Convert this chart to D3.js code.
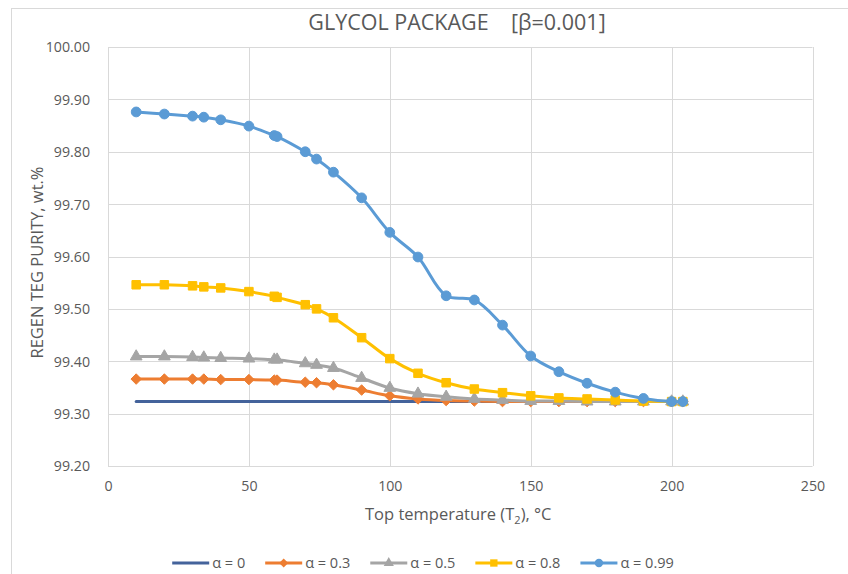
<!DOCTYPE html>
<html>
<head>
<meta charset="utf-8">
<script src="https://cdn.jsdelivr.net/npm/d3@7"></script>
<style>
  body { margin: 0; background: #fff; }
  svg { display: block; font-family: "Open Sans", "Noto Sans", sans-serif; }
</style>
</head>
<body>
<script>
// temperatures (°C) shared by every series
var temps = [10, 20, 30, 34, 40, 50, 59, 60, 70, 74, 80, 90, 100, 110, 120, 130, 140, 150, 160, 170, 180, 190, 200, 204];

// purity values, wt.%
var alpha0   = [99.323, 99.323, 99.323, 99.323, 99.323, 99.323, 99.323, 99.323, 99.323, 99.323, 99.323, 99.323, 99.323, 99.323, 99.323, 99.323, 99.323, 99.323, 99.323, 99.323, 99.323, 99.323, 99.323, 99.323];
var alpha03  = [99.366, 99.366, 99.366, 99.366, 99.365, 99.365, 99.364, 99.364, 99.360, 99.359, 99.355, 99.345, 99.334, 99.328, 99.325, 99.324, 99.323, 99.323, 99.323, 99.323, 99.323, 99.323, 99.323, 99.323];
var alpha05  = [99.409, 99.409, 99.408, 99.407, 99.406, 99.405, 99.403, 99.403, 99.396, 99.393, 99.387, 99.368, 99.349, 99.338, 99.332, 99.328, 99.326, 99.324, 99.324, 99.323, 99.323, 99.323, 99.323, 99.323];
var alpha08  = [99.546, 99.546, 99.544, 99.542, 99.540, 99.533, 99.524, 99.522, 99.508, 99.500, 99.483, 99.445, 99.405, 99.377, 99.359, 99.347, 99.340, 99.334, 99.330, 99.328, 99.326, 99.324, 99.323, 99.323];
var alpha099 = [99.876, 99.872, 99.868, 99.866, 99.861, 99.849, 99.831, 99.829, 99.800, 99.786, 99.761, 99.712, 99.646, 99.599, 99.525, 99.517, 99.469, 99.410, 99.380, 99.358, 99.341, 99.329, 99.323, 99.323];

var seriesNames = ["α = 0", "α = 0.3", "α = 0.5", "α = 0.8", "α = 0.99"];
var yTicks = [99.2, 99.3, 99.4, 99.5, 99.6, 99.7, 99.8, 99.9, 100.0];
var xTicks = [0, 50, 100, 150, 200, 250];

var W = 848, H = 574;
var margin = {left: 108, right: 848 - 812.5, top: 47, bottom: 574 - 466};

var series = [
  {name: seriesNames[0], vals: alpha0,   color: "#44639b", marker: null},
  {name: seriesNames[1], vals: alpha03,  color: "#ed7d31", marker: d3.symbolDiamond2, size: 70},
  {name: seriesNames[2], vals: alpha05,  color: "#a5a5a5", marker: d3.symbolTriangle, size: 60},
  {name: seriesNames[3], vals: alpha08,  color: "#ffc000", marker: d3.symbolSquare, size: 72},
  {name: seriesNames[4], vals: alpha099, color: "#5b9bd5", marker: d3.symbolCircle, size: 75}
];

var svg = d3.select("body").append("svg")
  .attr("width", W)
  .attr("height", H);

// chart area border
svg.append("rect")
  .attr("x", 11.5).attr("y", 8.5)
  .attr("width", W + 20).attr("height", H + 20)
  .attr("fill", "#fff")
  .attr("stroke", "#d9d9d9");

var x = d3.scaleLinear().domain([0, 250]).range([margin.left, W - margin.right]);
var y = d3.scaleLinear().domain([99.2, 100]).range([H - margin.bottom, margin.top]);

// gridlines
svg.append("g")
  .selectAll("line.h")
  .data(yTicks)
  .join("line")
    .attr("x1", x(0)).attr("x2", x(250))
    .attr("y1", function(d) {return Math.round(y(d)) + 0.5})
    .attr("y2", function(d) {return Math.round(y(d)) + 0.5})
    .attr("stroke", "#d9d9d9");

svg.append("g")
  .selectAll("line.v")
  .data(xTicks)
  .join("line")
    .attr("x1", function(d) {return Math.round(x(d)) + 0.5})
    .attr("x2", function(d) {return Math.round(x(d)) + 0.5})
    .attr("y1", y(100)).attr("y2", y(99.2))
    .attr("stroke", "#d9d9d9");

// axes (labels only)
var yAxis = svg.append("g")
  .attr("transform", "translate(" + (margin.left - 15) + ",0)")
  .call(d3.axisLeft(y).tickValues(yTicks).tickFormat(d3.format(".2f")).tickSize(0));
var xAxis = svg.append("g")
  .attr("transform", "translate(0," + (H - margin.bottom + 16) + ")")
  .call(d3.axisBottom(x).tickValues(xTicks).tickSize(0));

[xAxis, yAxis].forEach(function(a) {
  a.select(".domain").remove();
  a.selectAll("text")
    .attr("fill", "#595959")
    .style("font-size", "14.2px")
    .style("font-family", "'Open Sans', sans-serif");
});
yAxis.selectAll("text").attr("dy", "0.35em");
xAxis.selectAll("text").attr("dy", "0.45em");

// lines
var line = d3.line()
  .x(function(d) {return x(d[0])})
  .y(function(d) {return y(d[1])})
  .curve(d3.curveCatmullRom.alpha(0.5));

series.forEach(function(s) {
  var pts = temps.map(function(t, i) {return [t, s.vals[i]]});
  svg.append("path")
    .datum(pts)
    .attr("d", line)
    .attr("fill", "none")
    .attr("stroke", s.color)
    .attr("stroke-width", 3)
    .attr("stroke-linejoin", "round")
    .attr("stroke-linecap", "round");
  if (s.marker) {
    svg.append("g")
      .selectAll("path")
      .data(pts)
      .join("path")
        .attr("transform", function(d) {return "translate(" + x(d[0]) + "," + y(d[1]) + ")"})
        .attr("d", d3.symbol().type(s.marker).size(s.size))
        .attr("fill", s.color)
        .attr("stroke", s.color)
        .attr("stroke-width", 1);
  }
});

// title
svg.append("text")
  .attr("x", 457).attr("y", 30)
  .attr("text-anchor", "middle")
  .attr("fill", "#595959")
  .style("font-size", "21.5px")
  .style("white-space", "pre")
  .attr("xml:space", "preserve")
  .text("GLYCOL PACKAGE    [β=0.001]");

// axis titles
svg.append("text")
  .attr("transform", "translate(43," + ((y(100) + y(99.2)) / 2 + 6) + ") rotate(-90)")
  .attr("text-anchor", "middle")
  .attr("fill", "#595959")
  .style("font-size", "16.5px")
  .text("REGEN TEG PURITY, wt.%");

var xt = svg.append("text")
  .attr("x", (x(0) + x(250)) / 2 - 2).attr("y", 520)
  .attr("text-anchor", "middle")
  .attr("fill", "#595959")
  .style("font-size", "16.5px");
xt.append("tspan").text("Top temperature (T");
xt.append("tspan").attr("dy", 4).style("font-size", "11px").text("2");
xt.append("tspan").attr("dy", -4).text("), °C");

// legend
var legend = svg.append("g");
var items = legend.selectAll("g")
  .data(series)
  .join("g");

items.append("line")
  .attr("x1", 0).attr("x2", 37)
  .attr("y1", 0).attr("y2", 0)
  .attr("stroke", function(d) {return d.color})
  .attr("stroke-width", 3);

items.filter(function(d) {return d.marker}).append("path")
  .attr("transform", "translate(18.5,0)")
  .attr("d", function(d) {return d3.symbol().type(d.marker).size(d.size * 0.75)()})
  .attr("fill", function(d) {return d.color});

items.append("text")
  .attr("x", 40).attr("dy", "0.35em")
  .attr("fill", "#595959")
  .style("font-size", "14.5px")
  .text(function(d) {return d.name});

var pos = 0, widths = [];
items.each(function() {
  var w = 40 + this.querySelector("text").getComputedTextLength();
  widths.push(w);
});
var total = d3.sum(widths) + 20 * (widths.length - 1);
var start = 423 - total / 2;
items.attr("transform", function(d, i) {
  var t = "translate(" + (start + pos) + ",563)";
  pos += widths[i] + 20;
  return t;
});
</script>
</body>
</html>
